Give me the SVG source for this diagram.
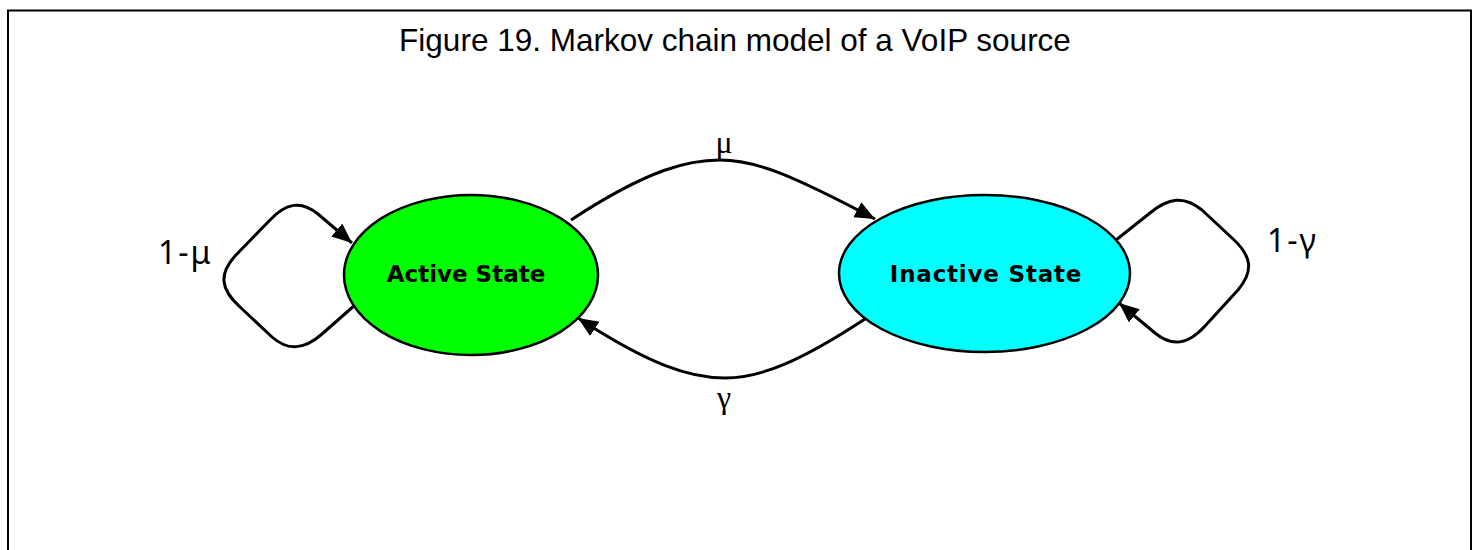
<svg xmlns="http://www.w3.org/2000/svg" width="1474" height="550" viewBox="0 0 1474 550">
<style>
.title{font-family:"Liberation Sans",Arial,sans-serif;font-size:31.5px;fill:#000}
.node-label{font-family:"DejaVu Sans",Verdana,sans-serif;font-weight:bold;font-size:23px;fill:#000;text-anchor:middle}
.node{stroke:#000;stroke-width:2.5}
.edge{fill:none;stroke:#000;stroke-width:3;stroke-linejoin:round}
.loop-label{font-family:"Noto Sans","DejaVu Sans",sans-serif;font-size:32px;fill:#000}
.greek{font-family:"Liberation Serif","Times New Roman",serif;font-size:32px;fill:#000;text-anchor:middle}
</style>
<defs>
<marker id="arrow" markerUnits="userSpaceOnUse" markerWidth="22" markerHeight="18" refX="20" refY="8.5" orient="auto">
<path d="M0,0 L20,8.5 L0,17 Z" fill="#000"/>
</marker>
</defs>
<rect x="8" y="10.5" width="1463" height="600" fill="#fff" stroke="#000" stroke-width="2"/>
<text class="title" x="735" y="51" text-anchor="middle">Figure 19. Markov chain model of a VoIP source</text>
<g id="connectors">
<path class="edge" d="M571,220 C650,168 690,160 720,160 C755,160 790,174 875,219" marker-end="url(#arrow)"/>
<path class="edge" d="M868,317 C800,362 760,378 725,378 C690,378 650,365 578,318" marker-end="url(#arrow)"/>
<path class="edge" d="M355,305 L322,334 C305,349 289,352 272,337 L240,307 C220,289 219,274 235,256 L270,220 C286,203 301,200 318,214 L352,243" marker-end="url(#arrow)"/>
<path class="edge" d="M1116,240 L1150,213 C1168,198 1184,195 1202,210 L1232,238 C1252,256 1254,271 1238,290 L1205,326 C1188,345 1172,347 1155,333 L1119,303" marker-end="url(#arrow)"/>
<text class="greek" x="724" y="153">μ</text>
<text class="greek" x="724" y="408">γ</text>
<text class="loop-label" x="158" y="264" letter-spacing="2">1-μ</text>
<text class="loop-label" x="1267" y="252" letter-spacing="2">1-γ</text>
</g>
<g id="active-state">
<ellipse class="node" cx="471" cy="275" rx="127" ry="80" fill="#00ff00"/>
<text class="node-label" x="466" y="282">Active State</text>
</g>
<g id="inactive-state">
<ellipse class="node" cx="984.5" cy="273.5" rx="145.5" ry="78.5" fill="#00ffff"/>
<text class="node-label" x="986" y="282" letter-spacing="0.8">Inactive State</text>
</g>
</svg>
